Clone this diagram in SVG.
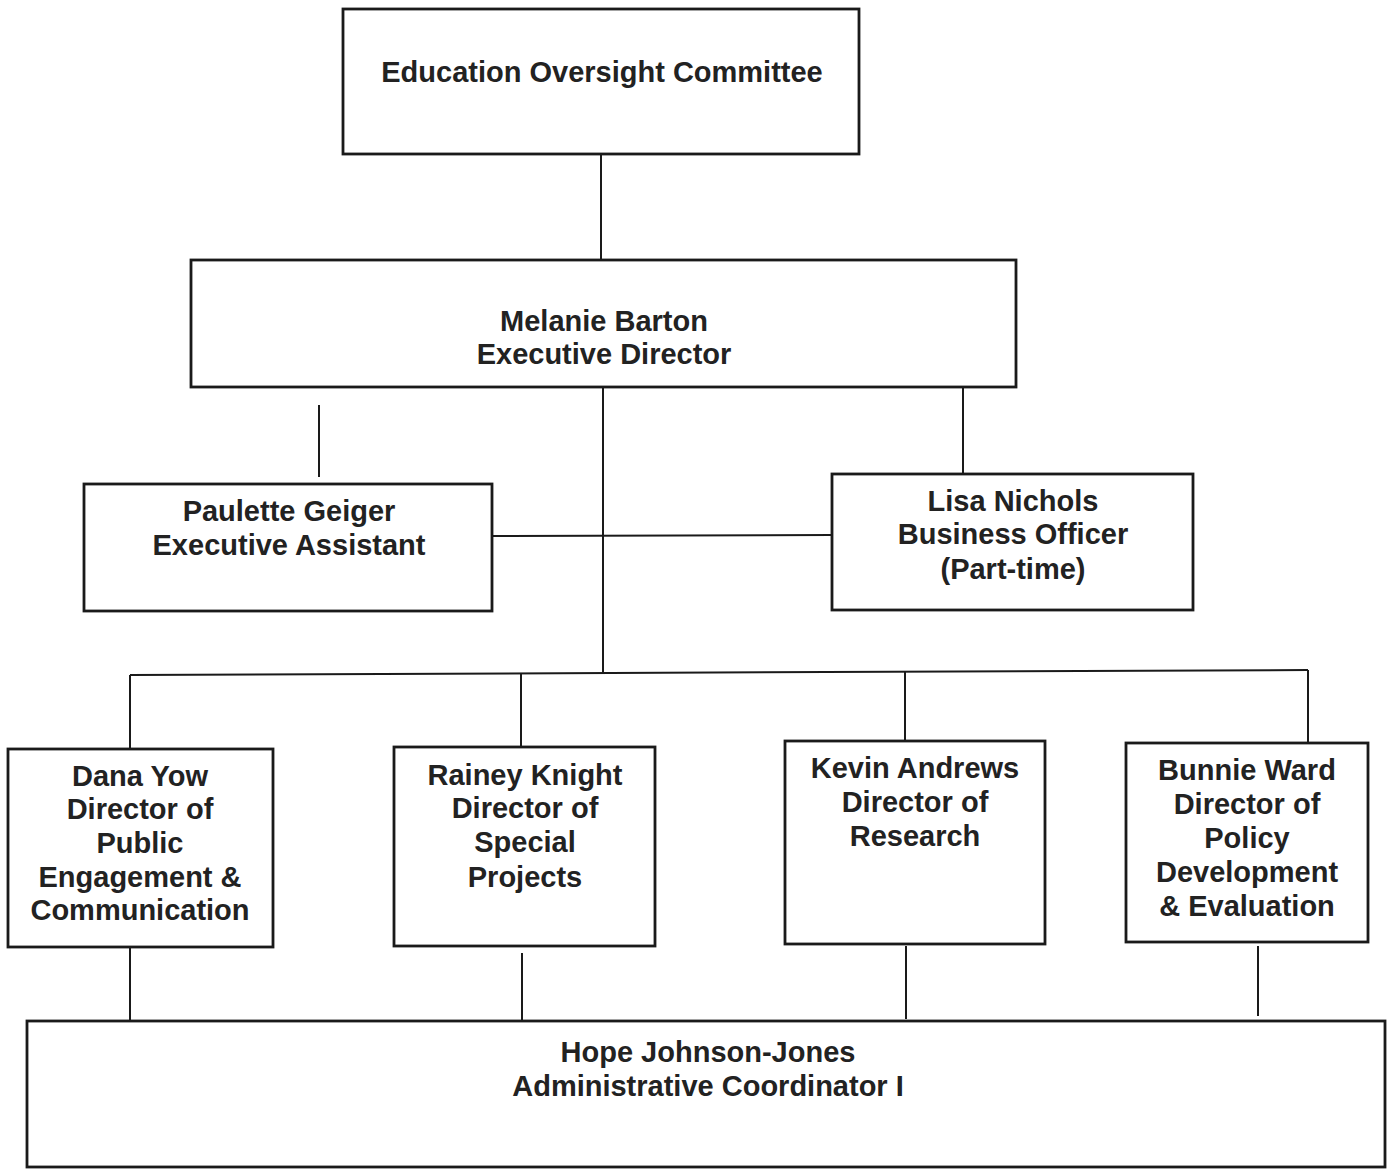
<svg xmlns="http://www.w3.org/2000/svg" width="1391" height="1169" viewBox="0 0 1391 1169">
<style>
.box{fill:#fff;stroke:#1a1a1a;stroke-width:2.8}
.t{font-family:"Liberation Sans",Arial,sans-serif;font-weight:bold;font-size:29px;fill:#222;text-anchor:middle}
.c line{stroke:#1a1a1a;stroke-width:2}
</style>
<rect width="1391" height="1169" fill="#fff"/>
<g class="c" id="connectors">
<line x1="601" y1="154" x2="601" y2="260"/>
<line x1="603" y1="388" x2="603" y2="673"/>
<line x1="319" y1="405" x2="319" y2="477"/>
<line x1="963" y1="388" x2="963" y2="473"/>
<line x1="492" y1="536" x2="832" y2="535"/>
<line x1="130" y1="675" x2="1308" y2="670"/>
<line x1="130" y1="675" x2="130" y2="749"/>
<line x1="521" y1="674" x2="521" y2="747"/>
<line x1="905" y1="672" x2="905" y2="741"/>
<line x1="1308" y1="670" x2="1308" y2="743"/>
<line x1="130" y1="948" x2="130" y2="1022"/>
<line x1="522" y1="953" x2="522" y2="1024"/>
<line x1="906" y1="946" x2="906" y2="1019"/>
<line x1="1258" y1="946" x2="1258" y2="1016"/>
</g>
<g id="committee">
<rect class="box" x="343" y="9" width="516" height="145"/>
<text class="t" x="602" y="82">Education Oversight Committee</text>
</g>
<g id="barton">
<rect class="box" x="191" y="260" width="825" height="127"/>
<text class="t" x="604" y="331">Melanie Barton</text>
<text class="t" x="604" y="364">Executive Director</text>
</g>
<g id="geiger">
<rect class="box" x="84" y="484" width="408" height="127"/>
<text class="t" x="289" y="521">Paulette Geiger</text>
<text class="t" x="289" y="555">Executive Assistant</text>
</g>
<g id="nichols">
<rect class="box" x="832" y="474" width="361" height="136"/>
<text class="t" x="1013" y="511">Lisa Nichols</text>
<text class="t" x="1013" y="544">Business Officer</text>
<text class="t" x="1013" y="579">(Part-time)</text>
</g>
<g id="yow">
<rect class="box" x="8" y="749" width="265" height="198"/>
<text class="t" x="140" y="786">Dana Yow</text>
<text class="t" x="140" y="819">Director of</text>
<text class="t" x="140" y="853">Public</text>
<text class="t" x="140" y="887">Engagement &amp;</text>
<text class="t" x="140" y="920">Communication</text>
</g>
<g id="knight">
<rect class="box" x="394" y="747" width="261" height="199"/>
<text class="t" x="525" y="785">Rainey Knight</text>
<text class="t" x="525" y="818">Director of</text>
<text class="t" x="525" y="852">Special</text>
<text class="t" x="525" y="887">Projects</text>
</g>
<g id="andrews">
<rect class="box" x="785" y="741" width="260" height="203"/>
<text class="t" x="915" y="778">Kevin Andrews</text>
<text class="t" x="915" y="812">Director of</text>
<text class="t" x="915" y="846">Research</text>
</g>
<g id="ward">
<rect class="box" x="1126" y="743" width="242" height="199"/>
<text class="t" x="1247" y="780">Bunnie Ward</text>
<text class="t" x="1247" y="814">Director of</text>
<text class="t" x="1247" y="848">Policy</text>
<text class="t" x="1247" y="882">Development</text>
<text class="t" x="1247" y="916">&amp; Evaluation</text>
</g>
<g id="johnson-jones">
<rect class="box" x="27" y="1021" width="1358" height="146"/>
<text class="t" x="708" y="1062">Hope Johnson-Jones</text>
<text class="t" x="708" y="1096">Administrative Coordinator I</text>
</g>
</svg>
